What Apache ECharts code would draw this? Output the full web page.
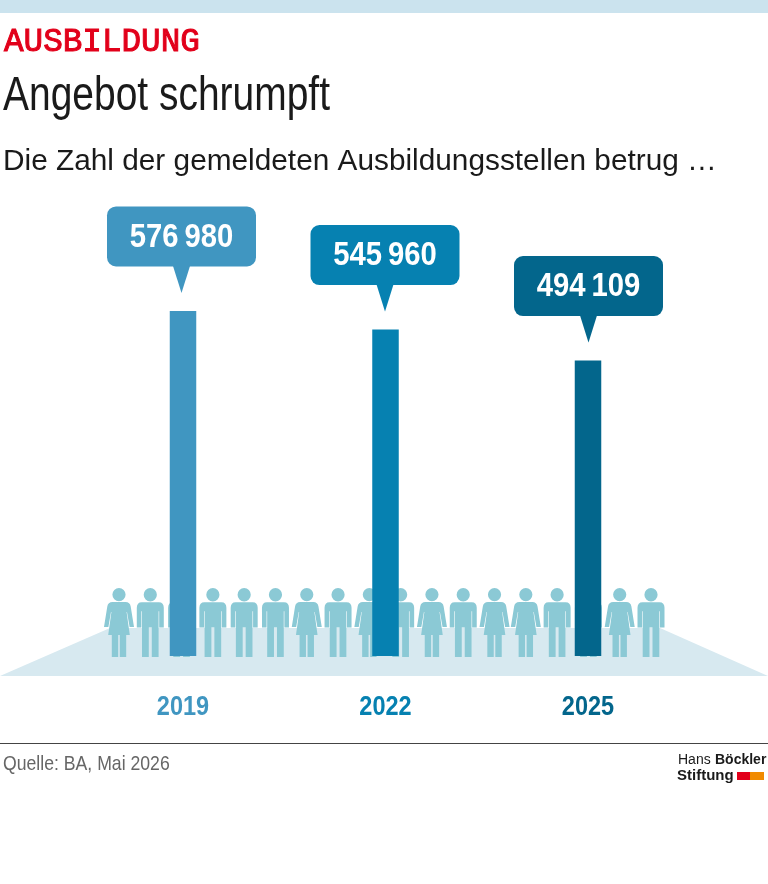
<!DOCTYPE html>
<html lang="de">
<head>
<meta charset="utf-8">
<title>Angebot schrumpft</title>
<style>
  html, body { margin: 0; padding: 0; background: #fff; }
  #chart { width: 768px; height: 884px; }
</style>
<script src="https://cdn.jsdelivr.net/npm/echarts@6/dist/echarts.min.js"></script>
</head>
<body>
<div id="chart"></div>
<script>
  // Daten
  const years = ['2019', '2022', '2025'];
  const positions = [576980, 545960, 494109];
  const yearColors = ['#4096c1', '#0681b1', '#03668c'];
  // Figuren im Hintergrund: w = Frau, m = Mann
  const people = ['w', 'm', 'm', 'm', 'm', 'm', 'w', 'm', 'w', 'm', 'w', 'm', 'w', 'w', 'm', 'm', 'w', 'm'];

  const sans = '"Liberation Sans", sans-serif';

  const manPath = 'path://M13.5 0A6.6 6.6 0 1 1 13.49 0ZM5 14H22Q27 14 27 19.5V39H22.4V23H21.8V68H15V39H12V68H5.2V23H4.6V39H0V19.5Q0 14 5 14Z';
  const womanPath = 'path://M15 0A6.6 6.6 0 1 1 14.99 0ZM8.5 14H21.5Q26 14 26.7 18.5L30 39H25.6L23 24H22.6L25.8 47H22.2V69H15.8V47H14.2V69H7.8V47H4.2L7.4 24H7L4.4 39H0L3.3 18.5Q4 14 8.5 14Z';

  function formatValue(v) {
    return String(v).replace(/\B(?=(\d{3})+$)/g, '\u2009');
  }

  // Sprechblase über dem Balken und Jahr darunter
  function renderBubble(params, api) {
    const idx = api.value(0);
    const top = api.coord([idx, api.value(1)]);
    const base = api.coord([idx, 0]);
    const x = top[0] - 1.5 + idx;
    const tipY = top[1] - 18;
    const color = yearColors[idx];
    return {
      type: 'group',
      children: [
        {
          type: 'rect',
          shape: { x: x - 74.5, y: tipY - 86.5, width: 149, height: 60, r: 9 },
          style: { fill: color }
        },
        {
          type: 'polygon',
          shape: { points: [[x - 8.5, tipY - 27], [x + 8.5, tipY - 27], [x, tipY]] },
          style: { fill: color }
        },
        {
          type: 'text',
          x: x,
          y: tipY - 55.5,
          scaleX: 0.86,
          style: {
            text: formatValue(api.value(1)),
            fill: '#fff',
            font: 'bold 34px ' + sans,
            align: 'center',
            verticalAlign: 'middle'
          }
        },
        {
          type: 'text',
          x: base[0],
          y: base[1] + 51,
          scaleX: 0.84,
          style: {
            text: years[idx],
            fill: color,
            font: 'bold 28px ' + sans,
            align: 'center',
            verticalAlign: 'middle'
          }
        }
      ]
    };
  }

  const chart = echarts.init(document.getElementById('chart'), null, { renderer: 'canvas' });

  chart.setOption({
    animation: false,
    backgroundColor: '#fff',
    grid: [
      { left: 81.75, width: 607.5, top: 297.2, bottom: 228 },
      { left: 103.35, width: 563.3, top: 588, bottom: 227 }
    ],
    xAxis: [
      {
        type: 'category',
        gridIndex: 0,
        data: years,
        axisLine: { show: false },
        axisTick: { show: false },
        axisLabel: { show: false }
      },
      {
        type: 'category',
        gridIndex: 1,
        data: people.map(function (p, i) { return p + i; }),
        axisLine: { show: false },
        axisTick: { show: false },
        axisLabel: { show: false }
      }
    ],
    yAxis: [
      { type: 'value', gridIndex: 0, min: 0, max: 600000, show: false },
      { type: 'value', gridIndex: 1, min: 0, max: 1, show: false }
    ],
    series: [
      {
        type: 'pictorialBar',
        xAxisIndex: 1,
        yAxisIndex: 1,
        z: 1,
        silent: true,
        symbolPosition: 'start',
        itemStyle: { color: '#8bc9d5' },
        data: people.map(function (p) {
          return { value: 1, symbol: p === 'w' ? womanPath : manPath, symbolSize: p === 'w' ? [30, '100%'] : [27, '100%'] };
        })
      },
      {
        type: 'bar',
        xAxisIndex: 0,
        yAxisIndex: 0,
        z: 3,
        barWidth: 26.5,
        data: positions.map(function (v, i) {
          return { value: v, itemStyle: { color: yearColors[i] } };
        })
      },
      {
        type: 'custom',
        xAxisIndex: 0,
        yAxisIndex: 0,
        z: 4,
        renderItem: renderBubble,
        data: positions.map(function (v, i) { return [i, v]; })
      }
    ],
    graphic: [
      { type: 'rect', z: -1, shape: { x: 0, y: 0, width: 768, height: 13 }, style: { fill: '#cbe3ee' } },
      { type: 'polygon', z: -1, shape: { points: [[0, 676], [110, 628], [660, 628], [768, 676]] }, style: { fill: '#d7e9f0' } },
      {
        type: 'text', x: 4, y: 25, scaleX: 0.96,
        style: { text: 'AUSBILDUNG', fill: '#e2001a', stroke: '#e2001a', lineWidth: 1, font: '34px "Liberation Mono", monospace' }
      },
      {
        type: 'text', x: 3, y: 72, scaleX: 0.795,
        style: { text: 'Angebot schrumpft', fill: '#1a1a1a', font: '49px ' + sans }
      },
      {
        type: 'text', x: 3, y: 147,
        style: { text: 'Die Zahl der gemeldeten Ausbildungsstellen betrug …', fill: '#1a1a1a', font: '29.8px ' + sans }
      },
      { type: 'rect', shape: { x: 0, y: 743, width: 768, height: 1 }, style: { fill: '#444' } },
      {
        type: 'text', x: 3, y: 754, scaleX: 0.84,
        style: { text: 'Quelle: BA, Mai 2026', fill: '#666', font: '21px ' + sans }
      },
      {
        type: 'text', x: 678, y: 753,
        style: { text: 'Hans ', fill: '#1a1a1a', font: '14px ' + sans }
      },
      {
        type: 'text', x: 715, y: 753,
        style: { text: 'Böckler', fill: '#1a1a1a', font: 'bold 14px ' + sans }
      },
      {
        type: 'text', x: 677, y: 768,
        style: { text: 'Stiftung', fill: '#1a1a1a', font: 'bold 15px ' + sans }
      },
      { type: 'rect', shape: { x: 737, y: 772, width: 13, height: 8 }, style: { fill: '#e2001a' } },
      { type: 'rect', shape: { x: 750, y: 772, width: 14, height: 8 }, style: { fill: '#f18a00' } }
    ]
  });
</script>
</body>
</html>
